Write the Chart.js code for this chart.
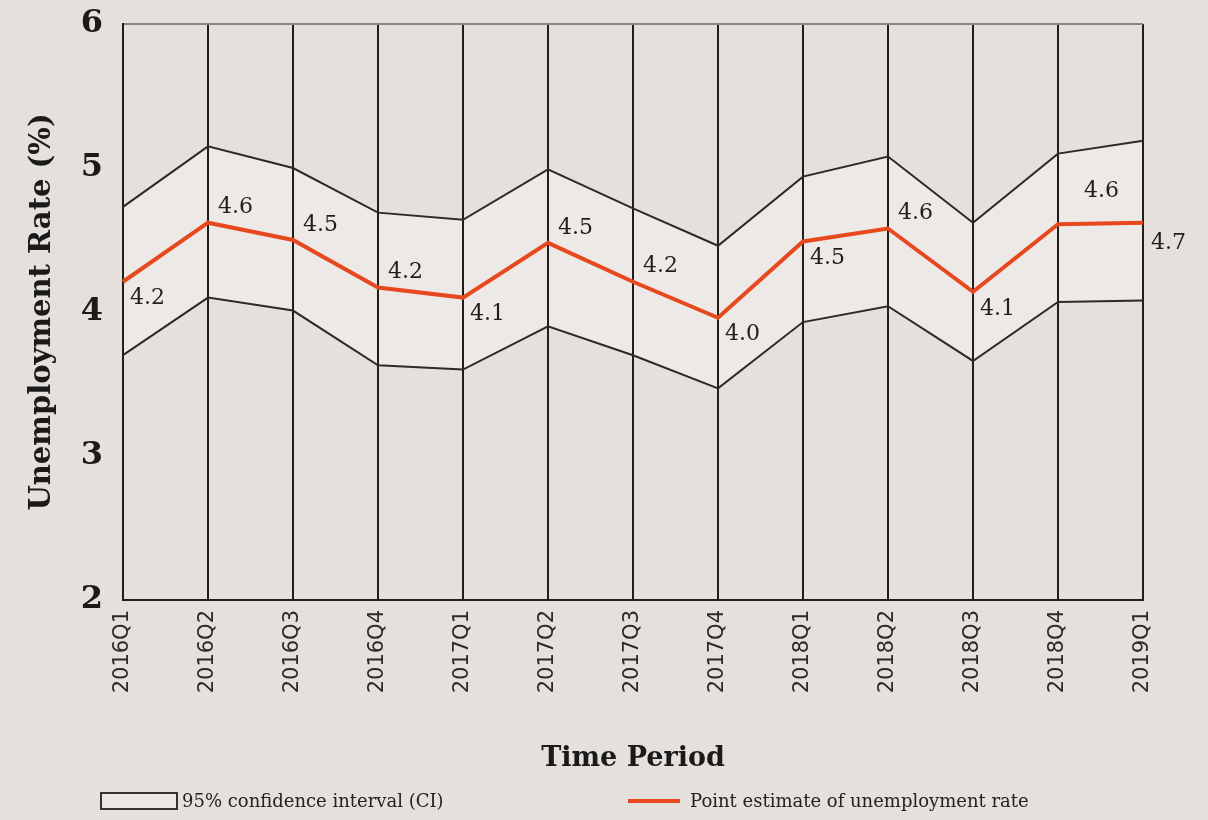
<!DOCTYPE html>
<html>
<head>
<meta charset="utf-8">
<script src="https://cdn.jsdelivr.net/npm/chart.js@4"></script>
<style>
  html, body { margin: 0; padding: 0; background: #e5e0db; }
  #wrap { position: relative; width: 1208px; height: 820px; }
  canvas { position: absolute; left: 0; top: 0; }
  .legend { position: absolute; top: 790px; font-family: "DejaVu Serif", serif; font-size: 18px; color: #222; display: flex; align-items: center; white-space: nowrap; }
  .legend .box { width: 78px; height: 18px; border: 2px solid #333; box-sizing: border-box; margin-right: 4px; background: #ebe8e5; }
  .legend .line { width: 52px; height: 4px; background: #e8481e; margin-right: 10px; }
</style>
</head>
<body>
<div id="wrap">
  <canvas id="chart" width="1208" height="820"></canvas>
  <div class="legend" style="left:100px"><span class="box"></span>95% confidence interval (CI)</div>
  <div class="legend" style="left:628px"><span class="line"></span>Point estimate of unemployment rate</div>
</div>
<script>
const periods = ['2016Q1', '2016Q2', '2016Q3', '2016Q4', '2017Q1', '2017Q2', '2017Q3', '2017Q4', '2018Q1', '2018Q2', '2018Q3', '2018Q4', '2019Q1'];
const pointEstimate = [4.21, 4.62, 4.5, 4.17, 4.1, 4.48, 4.21, 3.96, 4.49, 4.58, 4.14, 4.61, 4.62];
const upperCI = [4.73, 5.15, 5.0, 4.69, 4.64, 4.99, 4.72, 4.46, 4.94, 5.08, 4.62, 5.1, 5.19];
const lowerCI = [3.7, 4.1, 4.01, 3.63, 3.6, 3.9, 3.7, 3.47, 3.93, 4.04, 3.66, 4.07, 4.08];
const pointLabels = ['4.2', '4.6', '4.5', '4.2', '4.1', '4.5', '4.2', '4.0', '4.5', '4.6', '4.1', '4.6', '4.7'];
const yTicks = [2, 3, 4, 5, 6];

// where each value label sits relative to its point
const labelSide = ['below', 'above', 'above', 'above', 'below', 'above', 'above', 'below', 'below', 'above', 'below', 'above', 'right'];

const valueLabels = {
    id: 'valueLabels',
    afterDatasetsDraw(chart) {
        const meta = chart.getDatasetMeta(2);
        const ctx = chart.ctx;
        ctx.save();
        ctx.font = '22px "DejaVu Serif", serif';
        ctx.fillStyle = '#1e1e1e';
        ctx.textAlign = 'left';
        meta.data.forEach((pt, i) => {
            const side = labelSide[i];
            if (side === 'above') {
                ctx.textBaseline = 'bottom';
                ctx.fillText(pointLabels[i], pt.x + (i === 11 ? 26 : 10), pt.y - (i === 11 ? 22 : 4));
            } else if (side === 'below') {
                ctx.textBaseline = 'top';
                ctx.fillText(pointLabels[i], pt.x + 7, pt.y + 6);
            } else {
                ctx.textBaseline = 'top';
                ctx.fillText(pointLabels[i], pt.x + 8, pt.y + 10);
            }
        });
        ctx.restore();
    }
};

const ctx = document.getElementById('chart').getContext('2d');
new Chart(ctx, {
    type: 'line',
    data: {
        labels: periods,
        datasets: [
            {
                label: 'Upper CI',
                data: upperCI,
                borderColor: '#2a2a2a',
                borderWidth: 2,
                backgroundColor: '#ece9e6',
                fill: '+1',
                tension: 0,
                pointRadius: 0,
                order: 3
            },
            {
                label: 'Lower CI',
                data: lowerCI,
                borderColor: '#2a2a2a',
                borderWidth: 2,
                fill: false,
                tension: 0,
                pointRadius: 0,
                order: 2
            },
            {
                label: 'Point estimate of unemployment rate',
                data: pointEstimate,
                borderColor: '#e8481e',
                borderWidth: 4,
                fill: false,
                tension: 0,
                pointRadius: 0,
                order: 1
            }
        ]
    },
    options: {
        responsive: false,
        animation: false,
        layout: { padding: { top: 24, right: 65, bottom: 45, left: 25 } },
        plugins: {
            legend: { display: false },
            tooltip: { enabled: false },
            filler: { drawTime: 'beforeDraw' }
        },
        scales: {
            x: {
                offset: false,
                afterFit(scale) { scale.height = 175; },
                grid: { color: '#1e1e1e', lineWidth: 2, drawTicks: false },
                border: { display: true, color: '#1e1e1e', width: 2 },
                ticks: {
                    color: '#2a2a2a',
                    font: { family: '"DejaVu Sans", sans-serif', size: 21 },
                    maxRotation: 90,
                    minRotation: 90,
                    padding: 10,
                    autoSkip: false
                },
                title: {
                    display: true,
                    text: 'Time Period',
                    color: '#1a1a1a',
                    font: { family: '"DejaVu Serif", serif', size: 27, weight: 'bold' },
                    padding: { top: 0, bottom: 0 }
                }
            },
            y: {
                min: 2,
                max: 6,
                afterFit(scale) {
                    scale.width = 98;
                    scale.paddingTop = 0;
                    scale.paddingBottom = 0;
                },
                afterBuildTicks(scale) { scale.ticks = yTicks.map(v => ({ value: v })); },
                grid: {
                    color: (c) => c.tick && c.tick.value === 6 ? '#8a857c' : 'rgba(0,0,0,0)',
                    lineWidth: 2,
                    drawTicks: false
                },
                border: { display: true, color: '#1e1e1e', width: 2 },
                ticks: {
                    color: '#1a1a1a',
                    font: { family: '"DejaVu Serif", serif', size: 32, weight: 'bold' },
                    padding: 20
                },
                title: {
                    display: true,
                    text: 'Unemployment Rate (%)',
                    color: '#1a1a1a',
                    font: { family: '"DejaVu Serif", serif', size: 29, weight: 'bold' },
                    padding: { top: 0, bottom: 0 }
                }
            }
        }
    },
    plugins: [valueLabels]
});
</script>
</body>
</html>
